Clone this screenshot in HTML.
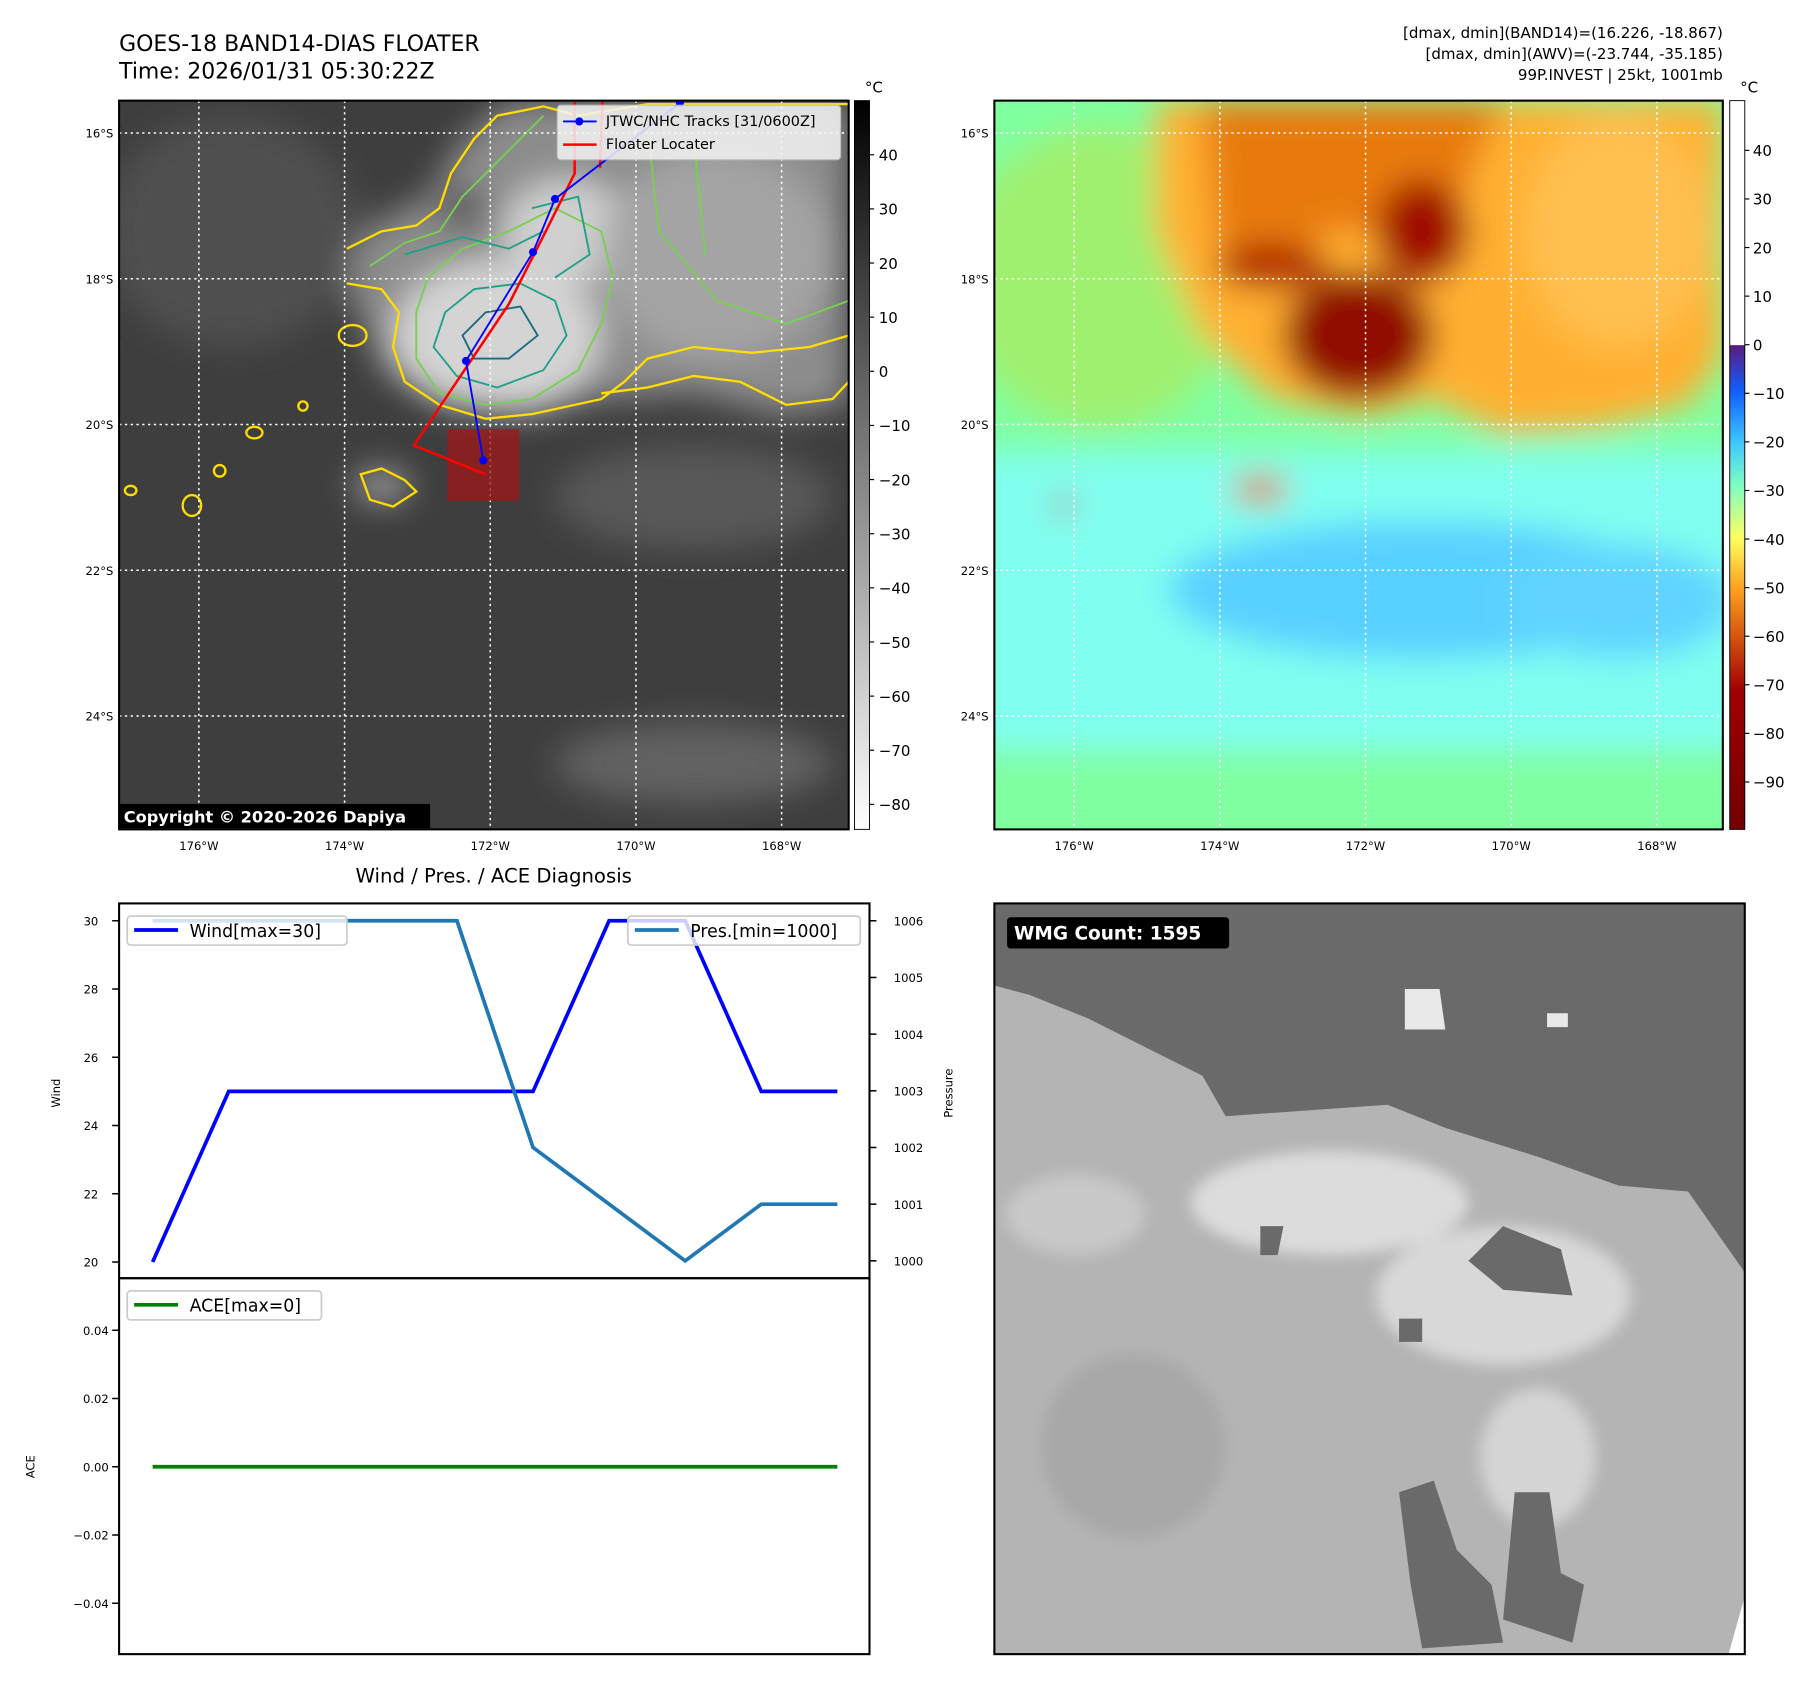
<!DOCTYPE html>
<html><head><meta charset="utf-8"><style>
html,body{margin:0;padding:0;background:#fff;}
svg{display:block;font-family:"DejaVu Sans","Liberation Sans",sans-serif;}
</style></head><body>
<svg id="root" width="1813" height="1690" viewBox="0 0 1568 1461" preserveAspectRatio="none" xmlns="http://www.w3.org/2000/svg">
<defs>
<filter id="bl" x="-20%" y="-20%" width="140%" height="140%"><feGaussianBlur stdDeviation="14"/></filter>
<filter id="bl2" x="-20%" y="-20%" width="140%" height="140%"><feGaussianBlur stdDeviation="6"/></filter>
<clipPath id="cL"><rect x="103" y="87" width="631" height="630"/></clipPath>
<clipPath id="cR"><rect x="860" y="87" width="630" height="630"/></clipPath>
<clipPath id="cB"><rect x="860" y="781" width="649" height="649"/></clipPath>
<linearGradient id="gcb" x1="0" y1="0" x2="0" y2="1"><stop offset="0" stop-color="#000"/><stop offset="1" stop-color="#fff"/></linearGradient>
<linearGradient id="jcb" x1="0" y1="0" x2="0" y2="1">
<stop offset="0" stop-color="#fff"/><stop offset="0.335" stop-color="#fff"/><stop offset="0.336" stop-color="#5a1a80"/>
<stop offset="0.4" stop-color="#1060ff"/><stop offset="0.47" stop-color="#40c8ff"/><stop offset="0.53" stop-color="#80ffc0"/>
<stop offset="0.6" stop-color="#ffff60"/><stop offset="0.67" stop-color="#ffa020"/><stop offset="0.74" stop-color="#d05010"/>
<stop offset="0.81" stop-color="#a00000"/><stop offset="1" stop-color="#700000"/></linearGradient>
</defs>

<text x="103" y="44" font-size="19">GOES-18 BAND14-DIAS FLOATER</text>
<text x="103" y="68" font-size="19">Time: 2026/01/31 05:30:22Z</text>
<g font-size="13" text-anchor="end">
<text x="1490" y="33">[dmax, dmin](BAND14)=(16.226, -18.867)</text>
<text x="1490" y="51">[dmax, dmin](AWV)=(-23.744, -35.185)</text>
<text x="1490" y="69">99P.INVEST | 25kt, 1001mb</text>
</g>

<!-- LEFT MAP -->
<g clip-path="url(#cL)">
<rect x="103" y="87" width="631" height="630" fill="#3e3e3e"/>
<g filter="url(#bl)">
<path d="M290,220 L330,190 L370,170 L400,120 L440,87 L734,87 L734,350 L680,360 L600,340 L520,345 L460,360 L380,350 L330,320 Z" fill="#8c8c8c"/>
<ellipse cx="430" cy="290" rx="90" ry="65" fill="#d4d4d4"/>
<ellipse cx="490" cy="200" rx="55" ry="45" fill="#d0d0d0"/>
<ellipse cx="620" cy="220" rx="100" ry="90" fill="#a4a4a4"/>
<ellipse cx="200" cy="200" rx="110" ry="100" fill="#505050"/>
<ellipse cx="600" cy="430" rx="120" ry="45" fill="#585858"/>
<ellipse cx="600" cy="660" rx="120" ry="35" fill="#626262"/>
<ellipse cx="330" cy="420" rx="25" ry="15" fill="#9a9a9a"/>
<ellipse cx="400" cy="180" rx="20" ry="18" fill="#555"/>
</g>
<path d="M300,215 L330,200 L360,195 L380,180 L390,150 L410,120 L430,100 L470,92 L500,100 L560,90 L734,90 M300,245 L330,250 L345,270 L340,300 L350,330 L380,350 L420,362 L460,358 L520,345 L540,330 L560,310 L600,300 L650,305 L700,300 L734,290 M520,340 L560,335 L600,325 L640,330 L680,350 L720,345 L734,330" fill="none" stroke="#ffdd00" stroke-width="2"/>
<path d="M320,230 L350,210 L380,200 L400,170 L430,140 L470,100 M360,270 L370,240 L400,215 L440,200 L480,180 L520,200 L530,240 L520,280 L500,320 L460,345 L420,350 L380,340 L360,310 Z M560,110 L570,200 L620,260 L680,280 L734,260 M600,120 L610,220" fill="none" stroke="#78d050" stroke-width="1.6"/>
<path d="M375,300 L385,270 L410,250 L450,245 L480,260 L490,290 L470,320 L430,335 L395,325 Z M350,220 L400,205 L440,215 L470,200 M460,180 L500,170 L510,220 L480,240" fill="none" stroke="#20a088" stroke-width="1.6"/>
<path d="M400,290 L420,270 L450,265 L465,290 L440,310 L410,310 Z" fill="none" stroke="#1a6a80" stroke-width="1.6"/>
<g fill="none" stroke="#ffdd00" stroke-width="2">
<ellipse cx="166" cy="437" rx="8" ry="9"/><ellipse cx="190" cy="407" rx="5" ry="5"/><ellipse cx="220" cy="374" rx="7" ry="5"/><ellipse cx="262" cy="351" rx="4" ry="4"/><ellipse cx="113" cy="424" rx="5" ry="4"/>
<path d="M312,410 L330,405 L350,415 L360,425 L340,438 L320,432 Z"/><ellipse cx="305" cy="290" rx="12" ry="9"/>
</g>
<g stroke="#fff" stroke-width="1.3" stroke-dasharray="2,3">
<line x1="103" y1="115" x2="734" y2="115"/><line x1="103" y1="241" x2="734" y2="241"/><line x1="103" y1="367" x2="734" y2="367"/><line x1="103" y1="493" x2="734" y2="493"/><line x1="103" y1="619" x2="734" y2="619"/>
<line x1="172" y1="87" x2="172" y2="717"/><line x1="298" y1="87" x2="298" y2="717"/><line x1="424" y1="87" x2="424" y2="717"/><line x1="550" y1="87" x2="550" y2="717"/><line x1="676" y1="87" x2="676" y2="717"/>
</g>
<rect x="387" y="371" width="62" height="62" fill="#a01818" opacity="0.75"/>
<polyline points="521,87 519,145" fill="none" stroke="#f00" stroke-width="2.2"/>
<polyline points="497,88 497,150 472,200 440,263 358,385 420,410" fill="none" stroke="#f00" stroke-width="2.2"/>
<polyline points="588,89 480,172 461,218 403,312 418,398" fill="none" stroke="#00f" stroke-width="1.6"/>
<g fill="#00f"><circle cx="588" cy="89" r="3.5"/><circle cx="480" cy="172" r="3.5"/><circle cx="461" cy="218" r="3.5"/><circle cx="403" cy="312" r="3.5"/><circle cx="418" cy="398" r="3.5"/></g>
</g>
<g>
<rect x="482" y="91" width="245" height="47" rx="3" fill="#f4f4f4" opacity="0.85" stroke="#ccc"/>
<line x1="487" y1="105" x2="516" y2="105" stroke="#00f" stroke-width="1.6"/><circle cx="501" cy="105" r="3.5" fill="#00f"/>
<text x="524" y="109" font-size="12.5">JTWC/NHC Tracks [31/0600Z]</text>
<line x1="487" y1="125" x2="516" y2="125" stroke="#f00" stroke-width="2.2"/>
<text x="524" y="129" font-size="12.5">Floater Locater</text>
</g>
<rect x="103" y="695" width="269" height="21" fill="#000"/>
<text x="107" y="711" font-size="14" font-weight="bold" fill="#fff">Copyright © 2020-2026 Dapiya</text>
<rect x="103" y="87" width="631" height="630" fill="none" stroke="#000" stroke-width="1.8"/>
<rect x="739" y="87" width="13" height="630" fill="url(#gcb)" stroke="#000" stroke-width="0.8"/>
<text x="748" y="80" font-size="13">°C</text>
<g id="lcb" font-size="13"></g>
<g id="rcb" font-size="13"></g>
<g id="latlon" font-size="10"></g>

<!-- RIGHT MAP -->
<g clip-path="url(#cR)">
<rect x="860" y="87" width="630" height="630" fill="#80ffa0"/>
<g filter="url(#bl)">
<rect x="840" y="390" width="680" height="260" fill="#80fff0"/>
<ellipse cx="1230" cy="510" rx="220" ry="60" fill="#58d0ff"/>
<ellipse cx="1400" cy="520" rx="100" ry="50" fill="#60d4ff"/>
<ellipse cx="950" cy="240" rx="120" ry="130" fill="#a0f070"/>
<path d="M1000,87 L1000,200 L1040,290 L1100,345 L1180,360 L1240,345 L1300,375 L1380,370 L1460,350 L1490,310 L1490,87 Z" fill="#ffb030"/>
<path d="M1040,87 L1050,200 L1080,250 L1150,200 L1250,200 L1300,87 Z" fill="#e87a10"/>
<ellipse cx="1175" cy="290" rx="65" ry="55" fill="#900800"/>
<ellipse cx="1230" cy="200" rx="40" ry="45" fill="#a01000"/>
<ellipse cx="1100" cy="230" rx="50" ry="20" fill="#b02a00"/>
<ellipse cx="1400" cy="200" rx="80" ry="100" fill="#ffc050"/>
<ellipse cx="1090" cy="423" rx="25" ry="12" fill="#e07020"/>
<ellipse cx="920" cy="437" rx="8" ry="9" fill="#c03000"/>
</g>
<g stroke="#fff" stroke-width="1.3" stroke-dasharray="2,3">
<line x1="860" y1="115" x2="1490" y2="115"/><line x1="860" y1="241" x2="1490" y2="241"/><line x1="860" y1="367" x2="1490" y2="367"/><line x1="860" y1="493" x2="1490" y2="493"/><line x1="860" y1="619" x2="1490" y2="619"/>
<line x1="929" y1="87" x2="929" y2="717"/><line x1="1055" y1="87" x2="1055" y2="717"/><line x1="1181" y1="87" x2="1181" y2="717"/><line x1="1307" y1="87" x2="1307" y2="717"/><line x1="1433" y1="87" x2="1433" y2="717"/>
</g>
</g>
<rect x="860" y="87" width="630" height="630" fill="none" stroke="#000" stroke-width="1.8"/>
<rect x="1496" y="87" width="13" height="630" fill="url(#jcb)" stroke="#000" stroke-width="0.8"/>
<text x="1505" y="80" font-size="13">°C</text>

<!-- BOTTOM LEFT CHART -->
<text x="427" y="763" font-size="17" text-anchor="middle">Wind / Pres. / ACE Diagnosis</text>
<g id="chart"></g>

<!-- BOTTOM RIGHT -->
<g clip-path="url(#cB)">
<rect x="860" y="781" width="649" height="649" fill="#b4b4b4"/>
<path d="M860,781 L1509,781 L1509,1100 L1460,1030 L1400,1025 L1330,1000 L1250,975 L1200,955 L1130,960 L1060,965 L1040,930 L990,905 L940,880 L890,860 L860,852 Z" fill="#6a6a6a"/>
<g filter="url(#bl2)">
<ellipse cx="1150" cy="1040" rx="120" ry="45" fill="#dcdcdc"/>
<ellipse cx="1300" cy="1120" rx="110" ry="60" fill="#d8d8d8"/>
<ellipse cx="930" cy="1050" rx="60" ry="35" fill="#c8c8c8"/>
<ellipse cx="1330" cy="1260" rx="50" ry="60" fill="#d4d4d4"/>
<ellipse cx="980" cy="1250" rx="80" ry="80" fill="#a8a8a8"/>
</g>
<path d="M1210,1290 L1240,1280 L1260,1340 L1290,1370 L1300,1420 L1230,1425 L1220,1370 Z M1310,1290 L1340,1290 L1350,1360 L1370,1370 L1360,1420 L1300,1400 Z M1270,1090 L1300,1060 L1350,1080 L1360,1120 L1300,1115 Z M1090,1060 L1110,1060 L1105,1085 L1090,1085 Z M1210,1140 L1230,1140 L1230,1160 L1210,1160 Z M1250,945 L1280,935 L1290,965 L1260,975 Z" fill="#6a6a6a"/>
<path d="M1215,855 L1245,855 L1250,890 L1215,890 Z M1338,876 L1356,876 L1356,888 L1338,888 Z" fill="#e8e8e8"/>
<path d="M1495,1430 L1509,1380 L1509,1430 Z" fill="#fff"/>
</g>
<rect x="860" y="781" width="649" height="649" fill="none" stroke="#000" stroke-width="1.8"/>
<rect x="871" y="793" width="192" height="27" rx="3" fill="#000"/>
<text x="877" y="812" font-size="16" font-weight="bold" fill="#fff">WMG Count: 1595</text>
</svg>
<script>
const indexes = [0,1,2,3,4,5,6,7,8,9];
const windValues = [20,25,25,25,25,25,30,30,25,25];
const pressureValues = [1006,1006,1006,1006,1006,1002,1001,1000,1001,1001];
const aceValues = [0,0,0,0,0,0,0,0,0,0];
const windTicks = [20,22,24,26,28,30];
const pressureTicks = [1000,1001,1002,1003,1004,1005,1006];
const aceTicks = [-0.04,-0.02,0,0.02,0.04];
const irCbTicks = [40,30,20,10,0,-10,-20,-30,-40,-50,-60,-70,-80];
const awvCbTicks = [40,30,20,10,0,-10,-20,-30,-40,-50,-60,-70,-80,-90];
const latTicks = ['16°S','18°S','20°S','22°S','24°S'];
const lonTicks = ['176°W','174°W','172°W','170°W','168°W'];

const NS='http://www.w3.org/2000/svg';
function mk(tag, attrs, parent){const e=document.createElementNS(NS,tag);for(const k in attrs)e.setAttribute(k,attrs[k]);parent.appendChild(e);return e;}
const xS=i=>132+i*65.8;
const wY=v=>1091-(v-20)*29.5;
const pY=v=>1090-(v-1000)*49;
const aY=v=>1268-v*2950;
const chart=document.getElementById('chart');

mk('rect',{x:103,y:781,width:649,height:324,fill:'none',stroke:'#000','stroke-width':1.8},chart);
mk('rect',{x:103,y:1105,width:649,height:325,fill:'none',stroke:'#000','stroke-width':1.8},chart);

windTicks.forEach(v=>{const y=wY(v);
 mk('line',{x1:97,y1:y,x2:103,y2:y,stroke:'#000','stroke-width':1.3},chart);
 const t=mk('text',{x:85,y:y+4,'font-size':10,'text-anchor':'end'},chart);t.textContent=v;
 
 });
pressureTicks.forEach(v=>{const y=pY(v);
 mk('line',{x1:752,y1:y,x2:758,y2:y,stroke:'#000','stroke-width':1.3},chart);
 const t=mk('text',{x:773,y:y+4,'font-size':10},chart);t.textContent=v;
 
 });
aceTicks.forEach(v=>{const y=aY(v);
 mk('line',{x1:97,y1:y,x2:103,y2:y,stroke:'#000','stroke-width':1.3},chart);
 const t=mk('text',{x:94,y:y+4,'font-size':10,'text-anchor':'end'},chart);t.textContent=(v<0?'\u2212':'')+Math.abs(v).toFixed(2);
 
 });
[['Wind',52,945],['Pressure',824,945],['ACE',30,1268]].forEach(([s,x,y])=>{
 const t=mk('text',{x:x,y:y,'font-size':10,'text-anchor':'middle',transform:`rotate(-90 ${x} ${y})`},chart);t.textContent=s;
 
 });

const wl=mk('polyline',{points:indexes.map(i=>xS(i)+','+wY(windValues[i])).join(' '),fill:'none',stroke:'#0000ff','stroke-width':3.2},chart);


const pl=mk('polyline',{points:indexes.map(i=>xS(i)+','+pY(pressureValues[i])).join(' '),fill:'none',stroke:'#1f77b4','stroke-width':3.2},chart);


const al=mk('polyline',{points:indexes.map(i=>xS(i)+','+aY(aceValues[i])).join(' '),fill:'none',stroke:'#008000','stroke-width':3.2},chart);



function legend(x,y,w,color,label,name){
 const g=mk('g',{},chart);
 
 
 mk('rect',{x:x,y:y,width:w,height:25,rx:3,fill:'#fff','fill-opacity':0.8,stroke:'#ccc','stroke-width':1.5},g);
 mk('line',{x1:x+6,y1:y+12,x2:x+44,y2:y+12,stroke:color,'stroke-width':3.2},g);
 const t=mk('text',{x:x+54,y:y+18,'font-size':15},g);t.textContent=label;}
legend(110,792,190,'#0000ff','Wind[max=30]','wind-legend');
legend(543,792,201,'#1f77b4','Pres.[min=1000]','pressure-legend');
legend(110,1116,168,'#008000','ACE[max=0]','ace-legend');

const lcb=document.getElementById('lcb');
irCbTicks.forEach(v=>{const y=321-v*4.68;
 mk('line',{x1:752,y1:y,x2:756,y2:y,stroke:'#000'},lcb);
 const t=mk('text',{x:760,y:y+5},lcb);t.textContent=(v<0?'\u2212':'')+Math.abs(v);
 
 });
const rcb=document.getElementById('rcb');
awvCbTicks.forEach(v=>{const y=298-v*4.2;
 mk('line',{x1:1509,y1:y,x2:1513,y2:y,stroke:'#000'},rcb);
 const t=mk('text',{x:1516,y:y+5},rcb);t.textContent=(v<0?'\u2212':'')+Math.abs(v);
 
 });
const ll=document.getElementById('latlon');
latTicks.forEach((s,i)=>{const y=115+i*126;
 [98,855].forEach(x=>{const t=mk('text',{x:x,y:y+4,'text-anchor':'end'},ll);t.textContent=s;
 
 });});
lonTicks.forEach((s,i)=>{[172,929].forEach(x0=>{const t=mk('text',{x:x0+i*126,y:735,'text-anchor':'middle'},ll);t.textContent=s;
 
 });});
</script>
</body></html>
